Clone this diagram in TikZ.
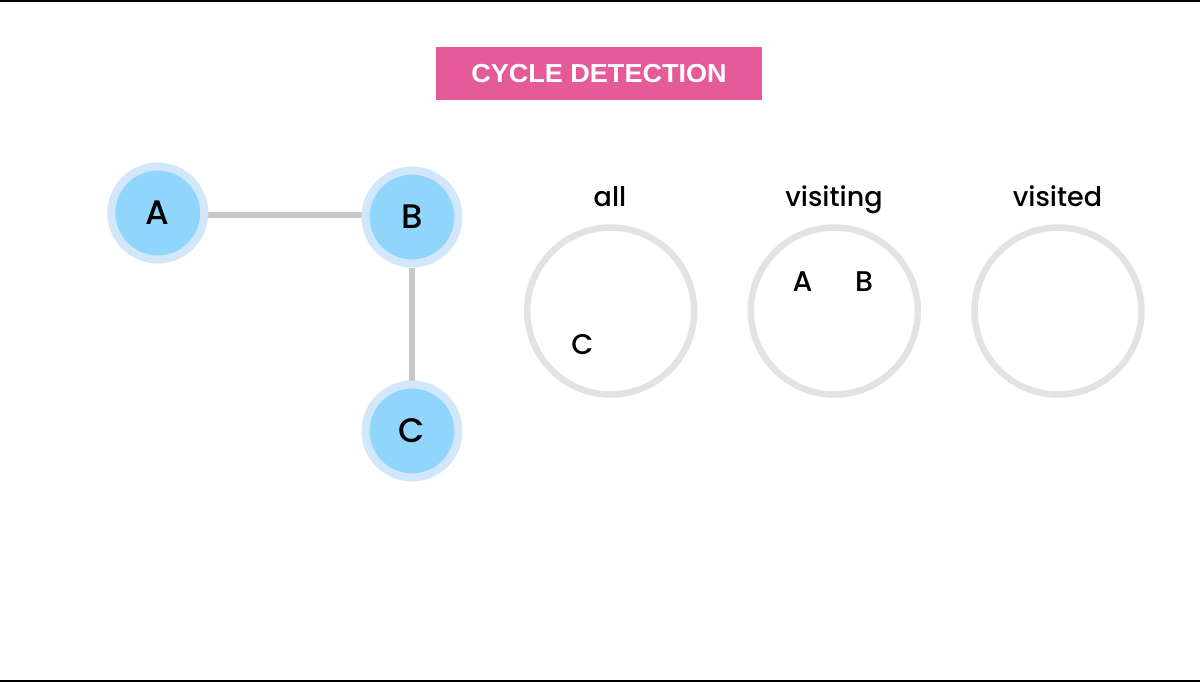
\documentclass[tikz,border=0pt]{standalone}
\usepackage{fontspec}
\usetikzlibrary{backgrounds}
\newfontfamily\popfont{Poppins}[UprightFont=* Medium]
\newfontfamily\titlefont{Liberation Sans}
\definecolor{titlepink}{HTML}{E55A98}
\definecolor{nodefill}{HTML}{90D5FC}
\definecolor{nodering}{HTML}{D2E8FA}
\definecolor{edgegray}{HTML}{C8C8C8}
\definecolor{setgray}{HTML}{E2E3E5}
\tikzset{
  gnode/.style={circle, draw=nodering, fill=nodefill, line width=8pt, minimum size=93pt, inner sep=0pt, font=\popfont\fontsize{34}{38}\selectfont},
  gedge/.style={draw=edgegray, line width=6pt},
  setcircle/.style={circle, draw=setgray, line width=6.5pt, minimum size=167pt, inner sep=0pt},
  setlabel/.style={anchor=base, inner sep=0pt, font=\popfont\fontsize{27}{30}\selectfont},
  member/.style={anchor=base, inner sep=0pt, font=\popfont\fontsize{28.5}{32}\selectfont},
  titlebox/.style={fill=titlepink, text=white, minimum width=326pt, minimum height=52.5pt, inner sep=0pt, font=\titlefont\bfseries\fontsize{26}{28}\selectfont},
  rule/.style={fill=black, draw=none}
}
\begin{document}
\begin{tikzpicture}[x=1pt,y=-1pt]
\useasboundingbox (0,0) rectangle (1200,682);
\fill[rule] (0,0) rectangle (1200,2);
\fill[rule] (0,680) rectangle (1200,682);
\node[titlebox] (title) at (599,73.75) {\scalebox{1.04}[1]{CYCLE DETECTION}};
% graph
\node[gnode] (A) at (157.8,213) {A};
\node[gnode] (B) at (412,217) {B};
\node[gnode] (C) at (412,431) {C};
\begin{scope}[on background layer]
\fill[white] (0,2) rectangle (1200,680);
\draw[gedge] ([yshift=-2pt]A.east) -- ([yshift=2pt]B.west);
\draw[gedge] (B.south) -- (C.north);
\end{scope}
% sets
\node[setcircle] (all) at (610.7,311) {};
\node[setcircle] (visiting) at (834.3,311) {};
\node[setcircle] (visited) at (1058,311) {};
\node[setlabel] (allL) at (610,207) {all};
\node[setlabel] (visitingL) at (834,207) {visiting};
\node[setlabel] (visitedL) at (1057.5,207) {visited};
\node[member] (mC) at (582.5,354) {C};
\node[member] (mA) at (802.5,291.5) {A};
\node[member] (mB) at (864,291.5) {B};
\end{tikzpicture}
\end{document}
